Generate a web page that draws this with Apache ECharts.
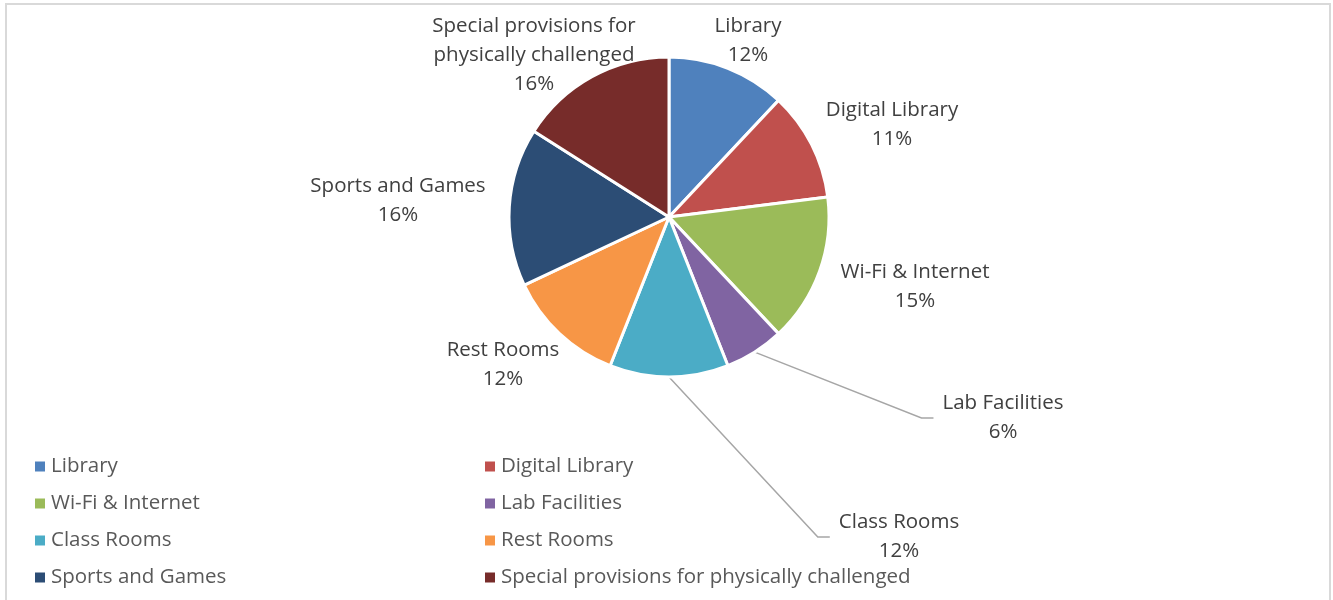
<!DOCTYPE html>
<html>
<head>
    <meta charset="utf-8">
    <title>ECharts</title>
    <script type="text/javascript" src="https://cdn.jsdelivr.net/npm/echarts@6/dist/echarts.min.js"></script>
    <style>
        html, body { margin: 0; padding: 0; background: #fff; }
    </style>
</head>
<body>
<div id="main" style="width: 1333px;height:600px;"></div>
<script type="text/javascript">
    // data
    var categories = ['Library', 'Digital Library', 'Wi-Fi & Internet', 'Lab Facilities',
        'Class Rooms', 'Rest Rooms', 'Sports and Games', 'Special provisions for physically challenged'];
    var shares = [12, 11, 15, 6, 12, 12, 16, 16];
    var colors = ['#4F81BD', '#C0504D', '#9BBB59', '#8064A2', '#4BACC6', '#F79646', '#2C4D75', '#772C2A'];

    // label text shown on the pie (Excel breaks the long one)
    var labelNames = ['Library', 'Digital Library', 'Wi-Fi & Internet', 'Lab Facilities',
        'Class Rooms', 'Rest Rooms', 'Sports and Games', 'Special provisions for\nphysically challenged'];
    // label centres (layout only)
    var labelX = [748, 892, 915, 1003, 899, 503, 398, 534];
    var labelY = [41, 125, 287, 418, 537, 365, 201, 55];
    var withLine = [false, false, false, true, true, false, false, false];

    var font = '"Open Sans", sans-serif';
    var myChart = echarts.init(document.getElementById('main'));

    var pieData = categories.map(function (c, i) {
        return {
            name: c,
            value: shares[i],
            itemStyle: { color: colors[i] },
            labelLine: { show: withLine[i] }
        };
    });

    var legendText = { fontFamily: font, fontSize: 20.5, color: '#595959', lineHeight: 25 };

    var option = {
        animation: false,
        graphic: [{
            type: 'rect',
            shape: { x: 6, y: 4, width: 1324, height: 610 },
            style: { fill: 'none', stroke: '#d9d9d9', lineWidth: 2 },
            silent: true
        }],
        legend: [{
            orient: 'vertical',
            left: 28,
            top: 449,
            itemWidth: 12,
            itemHeight: 12,
            itemGap: 12,
            icon: 'rect',
            data: [categories[0], categories[2], categories[4], categories[6]],
            textStyle: legendText
        }, {
            orient: 'vertical',
            left: 478,
            top: 449,
            itemWidth: 12,
            itemHeight: 12,
            itemGap: 12,
            icon: 'rect',
            data: [categories[1], categories[3], categories[5], categories[7]],
            textStyle: legendText
        }],
        series: [{
            type: 'pie',
            center: [669, 217],
            radius: 160,
            startAngle: 90,
            clockwise: true,
            itemStyle: { borderColor: '#fff', borderWidth: 3 },
            label: {
                position: 'outside',
                fontFamily: font,
                fontSize: 20.5,
                lineHeight: 29,
                color: '#404040',
                align: 'center',
                padding: [0, 9, 0, 9],
                formatter: function (p) {
                    return labelNames[p.dataIndex] + '\n' + Math.round(p.percent) + '%';
                }
            },
            labelLine: {
                length: 20,
                length2: 12,
                lineStyle: { color: '#a6a6a6', width: 1.5 }
            },
            labelLayout: function (p) {
                return {
                    x: labelX[p.dataIndex],
                    y: labelY[p.dataIndex],
                    align: 'center',
                    verticalAlign: 'middle'
                };
            },
            emphasis: { disabled: true },
            data: pieData
        }]
    };
    myChart.setOption(option);
</script>
</body>
</html>
